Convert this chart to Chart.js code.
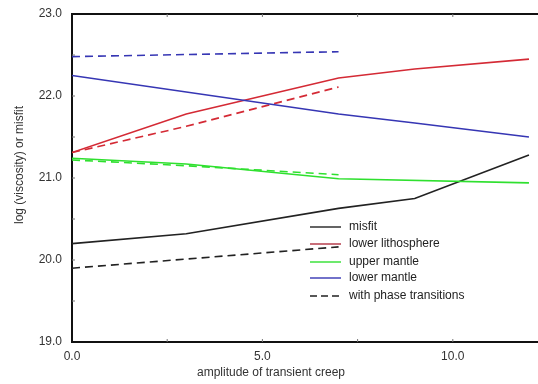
<!DOCTYPE html>
<html><head><meta charset="utf-8">
<script src="https://cdn.jsdelivr.net/npm/chart.js@4/dist/chart.umd.min.js"></script>
<style>html,body{margin:0;padding:0;background:#fff;overflow:hidden;width:538px;height:384px}</style>
</head><body>
<canvas id="c" width="560" height="384" style="width:560px;height:384px;display:block"></canvas>
<script>
// ---- data ----
const misfitX = [0, 3, 7, 9, 12];
const misfitY = [20.2, 20.32, 20.63, 20.75, 21.28];
const misfitPhaseX = [0, 7];
const misfitPhaseY = [19.9, 20.16];
const lithX = [0, 3, 7, 9, 12];
const lithY = [21.31, 21.78, 22.22, 22.33, 22.45];
const lithPhaseX = [0, 3, 7];
const lithPhaseY = [21.31, 21.63, 22.11];
const upperX = [0, 3, 7, 12];
const upperY = [21.24, 21.17, 20.99, 20.94];
const upperPhaseX = [0, 3, 7];
const upperPhaseY = [21.22, 21.15, 21.04];
const lowerX = [0, 7, 9, 12];
const lowerY = [22.25, 21.78, 21.67, 21.5];
const lowerPhaseX = [0, 7];
const lowerPhaseY = [22.48, 22.54];
const xTickValues = [0, 5, 10];
const yTickValues = [19, 20, 21, 22, 23];
const legendLabels = ['misfit', 'lower lithosphere', 'upper mantle', 'lower mantle', 'with phase transitions'];
const xTitle = 'amplitude of transient creep';
const yTitle = 'log (viscosity) or misfit';

const BLACK = '#222222', RED = '#d42a35', GREEN = '#2fe02f', BLUE = '#3636b4';
const pts = (xs, ys) => xs.map((x, i) => ({x, y: ys[i]}));
function ds(xs, ys, color, dashed) {
  return {data: pts(xs, ys), borderColor: color, borderWidth: 1.6, pointRadius: 0,
    borderDash: dashed ? [8, 5] : [], tension: 0, fill: false};
}

const FONT = '"Liberation Sans", Arial, Helvetica, sans-serif';

const deco = {
  id: 'deco',
  afterDraw(chart) {
    const ctx = chart.ctx, ca = chart.chartArea;
    const xs = chart.scales.x, ys = chart.scales.y;
    ctx.save();
    // top border
    ctx.strokeStyle = '#111'; ctx.lineWidth = 2;
    ctx.beginPath(); ctx.moveTo(ca.left - 1, ca.top); ctx.lineTo(ca.right, ca.top); ctx.stroke();
    // ticks
    ctx.lineWidth = 1; ctx.strokeStyle = '#777';
    for (let v = 2.5; v < 12.5; v += 2.5) {
      const p = xs.getPixelForValue(v);
      ctx.beginPath(); ctx.moveTo(p, ca.bottom); ctx.lineTo(p, ca.bottom - 3); ctx.stroke();
      ctx.beginPath(); ctx.moveTo(p, ca.top); ctx.lineTo(p, ca.top + 3); ctx.stroke();
    }
    for (let v = 19.5; v < 23; v += 0.5) {
      const p = ys.getPixelForValue(v);
      ctx.beginPath(); ctx.moveTo(ca.left, p); ctx.lineTo(ca.left + 3, p); ctx.stroke();
    }
    // axis titles
    ctx.fillStyle = '#333'; ctx.font = '12px ' + FONT;
    ctx.textAlign = 'center'; ctx.textBaseline = 'middle';
    ctx.fillText(xTitle, 271, 373);
    ctx.save(); ctx.translate(20, 165); ctx.rotate(-Math.PI / 2);
    ctx.fillText(yTitle, 0, 0); ctx.restore();
    // legend
    const colors = [BLACK, '#b03040', GREEN, BLUE, BLACK];
    const ly = [227, 244, 262, 278, 296];
    ctx.textAlign = 'left';
    legendLabels.forEach((t, i) => {
      ctx.strokeStyle = colors[i]; ctx.lineWidth = 1.4;
      ctx.setLineDash(i === 4 ? [7, 4] : []);
      ctx.beginPath(); ctx.moveTo(310, ly[i]); ctx.lineTo(341, ly[i]); ctx.stroke();
      ctx.setLineDash([]);
      ctx.fillStyle = '#222';
      ctx.fillText(t, 349, ly[i]);
    });
    ctx.restore();
  }
};

new Chart(document.getElementById('c'), {
  type: 'line',
  data: {datasets: [
    ds(lowerPhaseX, lowerPhaseY, BLUE, true),
    ds(lowerX, lowerY, BLUE, false),
    ds(lithPhaseX, lithPhaseY, RED, true),
    ds(lithX, lithY, RED, false),
    ds(upperPhaseX, upperPhaseY, GREEN, true),
    ds(upperX, upperY, GREEN, false),
    ds(misfitPhaseX, misfitPhaseY, BLACK, true),
    ds(misfitX, misfitY, BLACK, false)
  ]},
  options: {
    responsive: false, animation: false, devicePixelRatio: 1,
    layout: {padding: {left: 0, top: 14, right: 12, bottom: 0}},
    plugins: {legend: {display: false}, tooltip: {enabled: false}},
    scales: {
      x: {type: 'linear', min: 0, max: 12.5,
        afterFit(s) { s.height = 42; s.paddingLeft = 0; s.paddingRight = 0; },
        afterBuildTicks(s) { s.ticks = xTickValues.map(v => ({value: v})); },
        grid: {display: false, tickLength: 0},
        border: {display: true, color: '#111', width: 2},
        ticks: {color: '#333', font: {family: FONT, size: 12}, padding: 7,
          maxRotation: 0, autoSkip: false, callback: v => Number(v).toFixed(1)}},
      y: {type: 'linear', min: 19, max: 23,
        afterFit(s) { s.width = 72; s.paddingTop = 0; s.paddingBottom = 0; },
        afterBuildTicks(s) { s.ticks = yTickValues.map(v => ({value: v})); },
        grid: {display: false, tickLength: 0},
        border: {display: true, color: '#111', width: 2},
        ticks: {color: '#333', font: {family: FONT, size: 12}, padding: 10,
          callback: v => Number(v).toFixed(1)}}
    }
  },
  plugins: [deco]
});
</script>
</body></html>
